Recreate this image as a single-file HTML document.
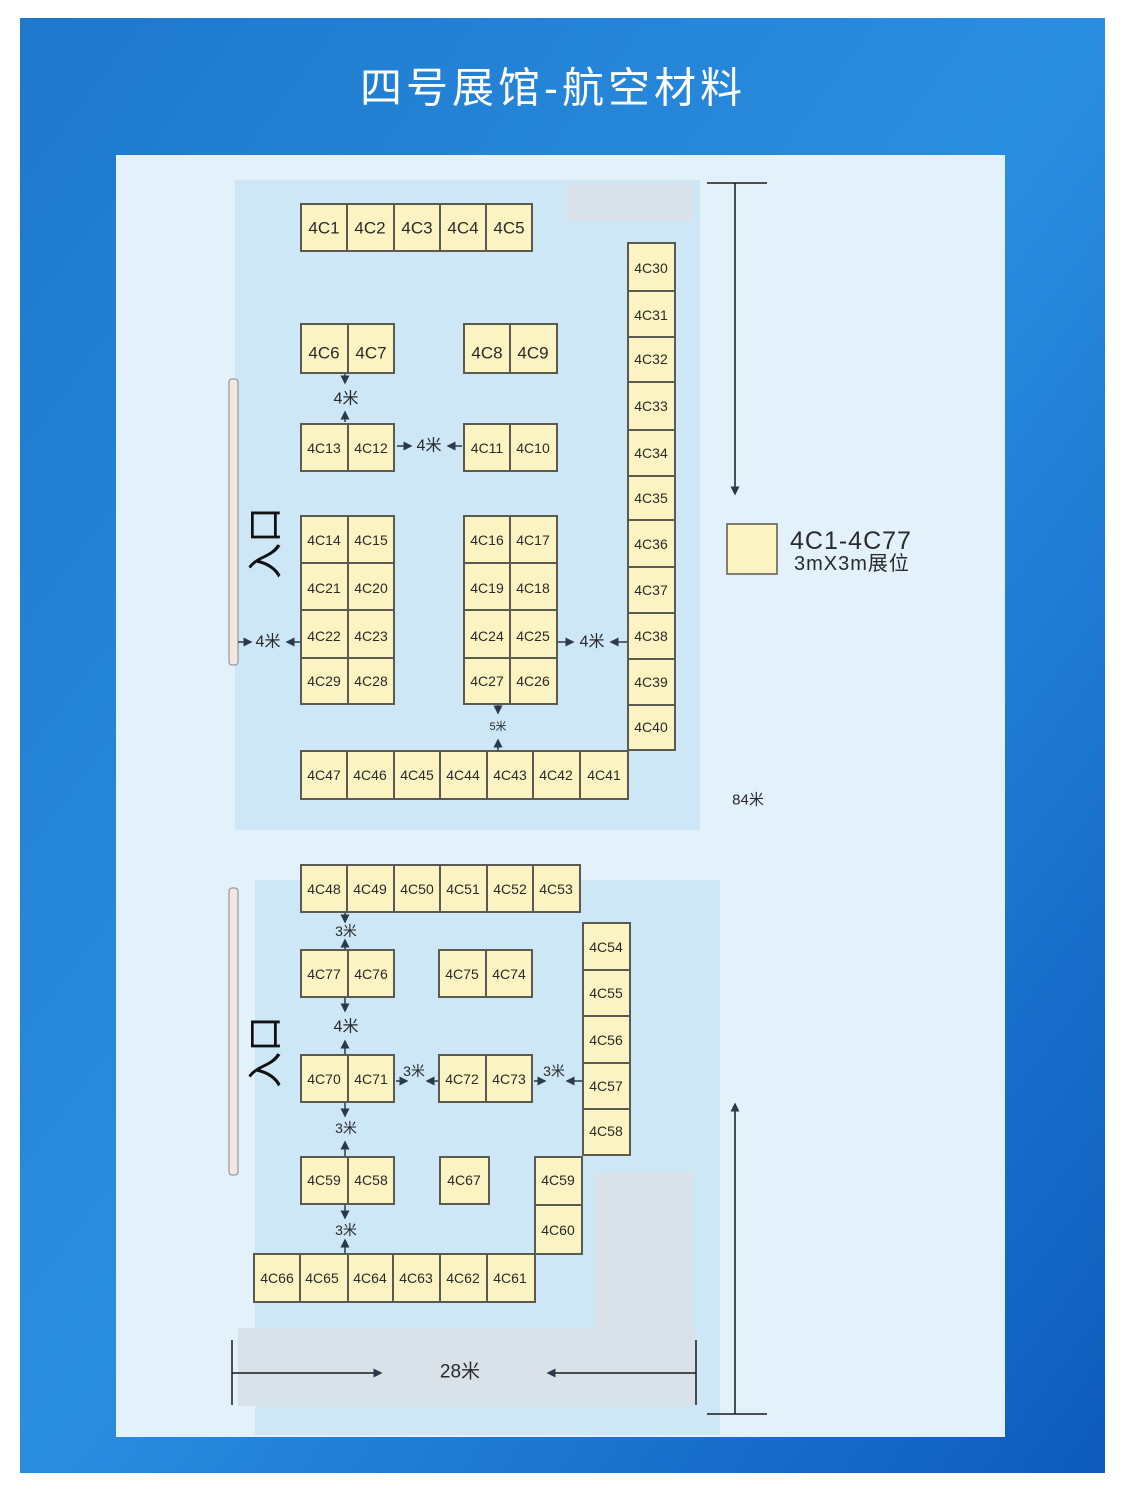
<!DOCTYPE html>
<html><head><meta charset="utf-8"><style>
html,body{margin:0;padding:0;background:#fff}
svg{display:block}
text{font-family:"Liberation Sans","Noto Sans CJK SC",sans-serif;fill:#2a2a2a}
.b{fill:#fbf3c1;stroke:#5a5a50;stroke-width:2}
.t{font-size:14px;text-anchor:middle;dominant-baseline:central}
.L{font-size:17px}
.a{stroke:#2a3a4a;stroke-width:1.5;fill:none}
</style></head><body>
<svg width="1125" height="1500" viewBox="0 0 1125 1500" xmlns="http://www.w3.org/2000/svg">
<defs>
<linearGradient id="g" x1="0" y1="0" x2="1" y2="1"><stop offset="0" stop-color="#1e78cc"/><stop offset="0.5" stop-color="#2a8ee0"/><stop offset="1" stop-color="#0d5bbd"/></linearGradient>
<marker id="m" markerWidth="6" markerHeight="6" refX="5" refY="3" orient="auto"><path d="M0,0 L6,3 L0,6 z" fill="#2a3a4a"/></marker>
</defs>
<rect x="20" y="18" width="1085" height="1455" fill="url(#g)"/>
<text x="553" y="88" text-anchor="middle" dominant-baseline="central" style="font-size:42px;fill:#fff;letter-spacing:4px">四号展馆-航空材料</text>
<rect x="116" y="155" width="889" height="1282" fill="#e2f1fa"/>
<rect x="235" y="180" width="465" height="650" fill="#cde7f6"/>
<rect x="255" y="880" width="465" height="555" fill="#cde7f6"/>
<rect x="567" y="183" width="126" height="38" fill="#d9e2e9"/>
<rect x="595" y="1172" width="98" height="160" fill="#d9e2e9"/>
<rect x="238" y="1328" width="457" height="78" fill="#d9e2e9"/>
<!-- entrance bars -->
<rect x="229" y="379" width="9" height="286" rx="3" fill="#f4e7e2" stroke="#888" stroke-width="1"/>
<rect x="229" y="888" width="9" height="287" rx="3" fill="#f4e7e2" stroke="#888" stroke-width="1"/>
<text x="0" y="0" text-anchor="middle" dominant-baseline="central" transform="translate(265,543) rotate(-90)" style="font-size:36px;fill:#111">入口</text>
<text x="0" y="0" text-anchor="middle" dominant-baseline="central" transform="translate(265,1052) rotate(-90)" style="font-size:36px;fill:#111">入口</text>

<!-- top row -->
<rect class="b" x="301" y="204" width="46" height="47"/><text class="t L" x="324" y="228">4C1</text>
<rect class="b" x="347" y="204" width="47" height="47"/><text class="t L" x="370" y="228">4C2</text>
<rect class="b" x="394" y="204" width="46" height="47"/><text class="t L" x="417" y="228">4C3</text>
<rect class="b" x="440" y="204" width="46" height="47"/><text class="t L" x="463" y="228">4C4</text>
<rect class="b" x="486" y="204" width="46" height="47"/><text class="t L" x="509" y="228">4C5</text>
<rect class="b" x="301" y="324" width="47" height="49"/><text class="t L" x="324" y="353">4C6</text>
<rect class="b" x="348" y="324" width="46" height="49"/><text class="t L" x="371" y="353">4C7</text>
<rect class="b" x="464" y="324" width="46" height="49"/><text class="t L" x="487" y="353">4C8</text>
<rect class="b" x="510" y="324" width="47" height="49"/><text class="t L" x="533" y="353">4C9</text>
<rect class="b" x="301" y="424" width="47" height="47"/><text class="t" x="324" y="448">4C13</text>
<rect class="b" x="348" y="424" width="46" height="47"/><text class="t" x="371" y="448">4C12</text>
<rect class="b" x="464" y="424" width="46" height="47"/><text class="t" x="487" y="448">4C11</text>
<rect class="b" x="510" y="424" width="47" height="47"/><text class="t" x="533" y="448">4C10</text>

<rect class="b" x="301" y="516" width="47" height="47"/><text class="t" x="324" y="540">4C14</text>
<rect class="b" x="348" y="516" width="46" height="47"/><text class="t" x="371" y="540">4C15</text>
<rect class="b" x="301" y="563" width="47" height="47"/><text class="t" x="324" y="588">4C21</text>
<rect class="b" x="348" y="563" width="46" height="47"/><text class="t" x="371" y="588">4C20</text>
<rect class="b" x="301" y="610" width="47" height="48"/><text class="t" x="324" y="636">4C22</text>
<rect class="b" x="348" y="610" width="46" height="48"/><text class="t" x="371" y="636">4C23</text>
<rect class="b" x="301" y="658" width="47" height="46"/><text class="t" x="324" y="681">4C29</text>
<rect class="b" x="348" y="658" width="46" height="46"/><text class="t" x="371" y="681">4C28</text>
<rect class="b" x="464" y="516" width="46" height="47"/><text class="t" x="487" y="540">4C16</text>
<rect class="b" x="510" y="516" width="47" height="47"/><text class="t" x="533" y="540">4C17</text>
<rect class="b" x="464" y="563" width="46" height="47"/><text class="t" x="487" y="588">4C19</text>
<rect class="b" x="510" y="563" width="47" height="47"/><text class="t" x="533" y="588">4C18</text>
<rect class="b" x="464" y="610" width="46" height="48"/><text class="t" x="487" y="636">4C24</text>
<rect class="b" x="510" y="610" width="47" height="48"/><text class="t" x="533" y="636">4C25</text>
<rect class="b" x="464" y="658" width="46" height="46"/><text class="t" x="487" y="681">4C27</text>
<rect class="b" x="510" y="658" width="47" height="46"/><text class="t" x="533" y="681">4C26</text>

<rect class="b" x="628" y="243" width="47" height="48"/><text class="t" x="651" y="268">4C30</text>
<rect class="b" x="628" y="291" width="47" height="46"/><text class="t" x="651" y="315">4C31</text>
<rect class="b" x="628" y="337" width="47" height="45"/><text class="t" x="651" y="359">4C32</text>
<rect class="b" x="628" y="382" width="47" height="48"/><text class="t" x="651" y="406">4C33</text>
<rect class="b" x="628" y="430" width="47" height="46"/><text class="t" x="651" y="453">4C34</text>
<rect class="b" x="628" y="476" width="47" height="44"/><text class="t" x="651" y="498">4C35</text>
<rect class="b" x="628" y="520" width="47" height="47"/><text class="t" x="651" y="544">4C36</text>
<rect class="b" x="628" y="567" width="47" height="46"/><text class="t" x="651" y="590">4C37</text>
<rect class="b" x="628" y="613" width="47" height="46"/><text class="t" x="651" y="636">4C38</text>
<rect class="b" x="628" y="659" width="47" height="46"/><text class="t" x="651" y="682">4C39</text>
<rect class="b" x="628" y="705" width="47" height="45"/><text class="t" x="651" y="727">4C40</text>
<rect class="b" x="301" y="751" width="46" height="48"/><text class="t" x="324" y="775">4C47</text>
<rect class="b" x="347" y="751" width="47" height="48"/><text class="t" x="370" y="775">4C46</text>
<rect class="b" x="394" y="751" width="46" height="48"/><text class="t" x="417" y="775">4C45</text>
<rect class="b" x="440" y="751" width="47" height="48"/><text class="t" x="463" y="775">4C44</text>
<rect class="b" x="487" y="751" width="46" height="48"/><text class="t" x="510" y="775">4C43</text>
<rect class="b" x="533" y="751" width="47" height="48"/><text class="t" x="556" y="775">4C42</text>
<rect class="b" x="580" y="751" width="48" height="48"/><text class="t" x="604" y="775">4C41</text>

<rect class="b" x="301" y="865" width="46" height="47"/><text class="t" x="324" y="889">4C48</text>
<rect class="b" x="347" y="865" width="47" height="47"/><text class="t" x="370" y="889">4C49</text>
<rect class="b" x="394" y="865" width="46" height="47"/><text class="t" x="417" y="889">4C50</text>
<rect class="b" x="440" y="865" width="47" height="47"/><text class="t" x="463" y="889">4C51</text>
<rect class="b" x="487" y="865" width="46" height="47"/><text class="t" x="510" y="889">4C52</text>
<rect class="b" x="533" y="865" width="47" height="47"/><text class="t" x="556" y="889">4C53</text>
<rect class="b" x="301" y="950" width="47" height="47"/><text class="t" x="324" y="974">4C77</text>
<rect class="b" x="348" y="950" width="46" height="47"/><text class="t" x="371" y="974">4C76</text>
<rect class="b" x="439" y="950" width="47" height="47"/><text class="t" x="462" y="974">4C75</text>
<rect class="b" x="486" y="950" width="46" height="47"/><text class="t" x="509" y="974">4C74</text>
<rect class="b" x="583" y="923" width="47" height="47"/><text class="t" x="606" y="947">4C54</text>
<rect class="b" x="583" y="970" width="47" height="46"/><text class="t" x="606" y="993">4C55</text>
<rect class="b" x="583" y="1016" width="47" height="47"/><text class="t" x="606" y="1040">4C56</text>
<rect class="b" x="583" y="1063" width="47" height="46"/><text class="t" x="606" y="1086">4C57</text>
<rect class="b" x="583" y="1109" width="47" height="46"/><text class="t" x="606" y="1131">4C58</text>
<rect class="b" x="301" y="1055" width="47" height="47"/><text class="t" x="324" y="1079">4C70</text>
<rect class="b" x="348" y="1055" width="46" height="47"/><text class="t" x="371" y="1079">4C71</text>
<rect class="b" x="439" y="1055" width="47" height="47"/><text class="t" x="462" y="1079">4C72</text>
<rect class="b" x="486" y="1055" width="46" height="47"/><text class="t" x="509" y="1079">4C73</text>
<rect class="b" x="301" y="1157" width="47" height="47"/><text class="t" x="324" y="1180">4C59</text>
<rect class="b" x="348" y="1157" width="46" height="47"/><text class="t" x="371" y="1180">4C58</text>
<rect class="b" x="440" y="1157" width="49" height="47"/><text class="t" x="464" y="1180">4C67</text>
<rect class="b" x="535" y="1157" width="47" height="48"/><text class="t" x="558" y="1180">4C59</text>
<rect class="b" x="535" y="1205" width="47" height="49"/><text class="t" x="558" y="1230">4C60</text>
<rect class="b" x="254" y="1254" width="46" height="48"/><text class="t" x="277" y="1278">4C66</text>
<rect class="b" x="300" y="1254" width="48" height="48"/><text class="t" x="322" y="1278">4C65</text>
<rect class="b" x="348" y="1254" width="45" height="48"/><text class="t" x="370" y="1278">4C64</text>
<rect class="b" x="393" y="1254" width="47" height="48"/><text class="t" x="416" y="1278">4C63</text>
<rect class="b" x="440" y="1254" width="47" height="48"/><text class="t" x="463" y="1278">4C62</text>
<rect class="b" x="487" y="1254" width="48" height="48"/><text class="t" x="510" y="1278">4C61</text>

<g class="a">
<line x1="345" y1="374" x2="345" y2="383" marker-end="url(#m)"/>
<line x1="345" y1="422" x2="345" y2="412" marker-end="url(#m)"/>
<line x1="397" y1="446" x2="411" y2="446" marker-end="url(#m)"/>
<line x1="462" y1="446" x2="448" y2="446" marker-end="url(#m)"/>
<line x1="238" y1="642" x2="251" y2="642" marker-end="url(#m)"/>
<line x1="300" y1="642" x2="287" y2="642" marker-end="url(#m)"/>
<line x1="558" y1="642" x2="573" y2="642" marker-end="url(#m)"/>
<line x1="627" y1="642" x2="611" y2="642" marker-end="url(#m)"/>
<line x1="498" y1="705" x2="498" y2="713" marker-end="url(#m)"/>
<line x1="498" y1="750" x2="498" y2="740" marker-end="url(#m)"/>
<line x1="345" y1="913" x2="345" y2="922" marker-end="url(#m)"/>
<line x1="345" y1="949" x2="345" y2="940" marker-end="url(#m)"/>
<line x1="345" y1="998" x2="345" y2="1011" marker-end="url(#m)"/>
<line x1="345" y1="1054" x2="345" y2="1041" marker-end="url(#m)"/>
<line x1="396" y1="1081" x2="407" y2="1081" marker-end="url(#m)"/>
<line x1="438" y1="1081" x2="427" y2="1081" marker-end="url(#m)"/>
<line x1="534" y1="1081" x2="545" y2="1081" marker-end="url(#m)"/>
<line x1="582" y1="1081" x2="567" y2="1081" marker-end="url(#m)"/>
<line x1="345" y1="1103" x2="345" y2="1116" marker-end="url(#m)"/>
<line x1="345" y1="1156" x2="345" y2="1142" marker-end="url(#m)"/>
<line x1="345" y1="1205" x2="345" y2="1218" marker-end="url(#m)"/>
<line x1="345" y1="1253" x2="345" y2="1240" marker-end="url(#m)"/>
</g>
<text class="t" x="346" y="399" style="font-size:16px">4米</text>
<text class="t" x="429" y="446" style="font-size:16px">4米</text>
<text class="t" x="268" y="642" style="font-size:16px">4米</text>
<text class="t" x="592" y="642" style="font-size:16px">4米</text>
<text class="t" x="498" y="727" style="font-size:11px">5米</text>
<text class="t" x="346" y="931">3米</text>
<text class="t" x="346" y="1027" style="font-size:16px">4米</text>
<text class="t" x="414" y="1071">3米</text>
<text class="t" x="554" y="1071">3米</text>
<text class="t" x="346" y="1128">3米</text>
<text class="t" x="346" y="1230">3米</text>
<g stroke="#1a1a1a" stroke-width="1.5" fill="none">
<line x1="707" y1="183" x2="767" y2="183"/>
<line x1="735" y1="183" x2="735" y2="494" marker-end="url(#m)"/>
<line x1="707" y1="1414" x2="767" y2="1414"/>
<line x1="735" y1="1414" x2="735" y2="1104" marker-end="url(#m)"/>
<line x1="232" y1="1340" x2="232" y2="1405"/>
<line x1="696" y1="1340" x2="696" y2="1405"/>
<line x1="232" y1="1373" x2="381" y2="1373" marker-end="url(#m)"/>
<line x1="696" y1="1373" x2="548" y2="1373" marker-end="url(#m)"/>
</g>
<text class="t" x="748" y="800" style="font-size:15px">84米</text>
<text class="t" x="460" y="1372" style="font-size:19px">28米</text>
<rect x="727" y="524" width="50" height="50" fill="#fbf3c1" stroke="#5a5a50" stroke-width="1.5"/>
<text x="790" y="541" dominant-baseline="central" style="font-size:25px;letter-spacing:1px">4C1-4C77</text>
<text x="794" y="564" dominant-baseline="central" style="font-size:20px;letter-spacing:1px">3mX3m展位</text>
</svg>
</body></html>
